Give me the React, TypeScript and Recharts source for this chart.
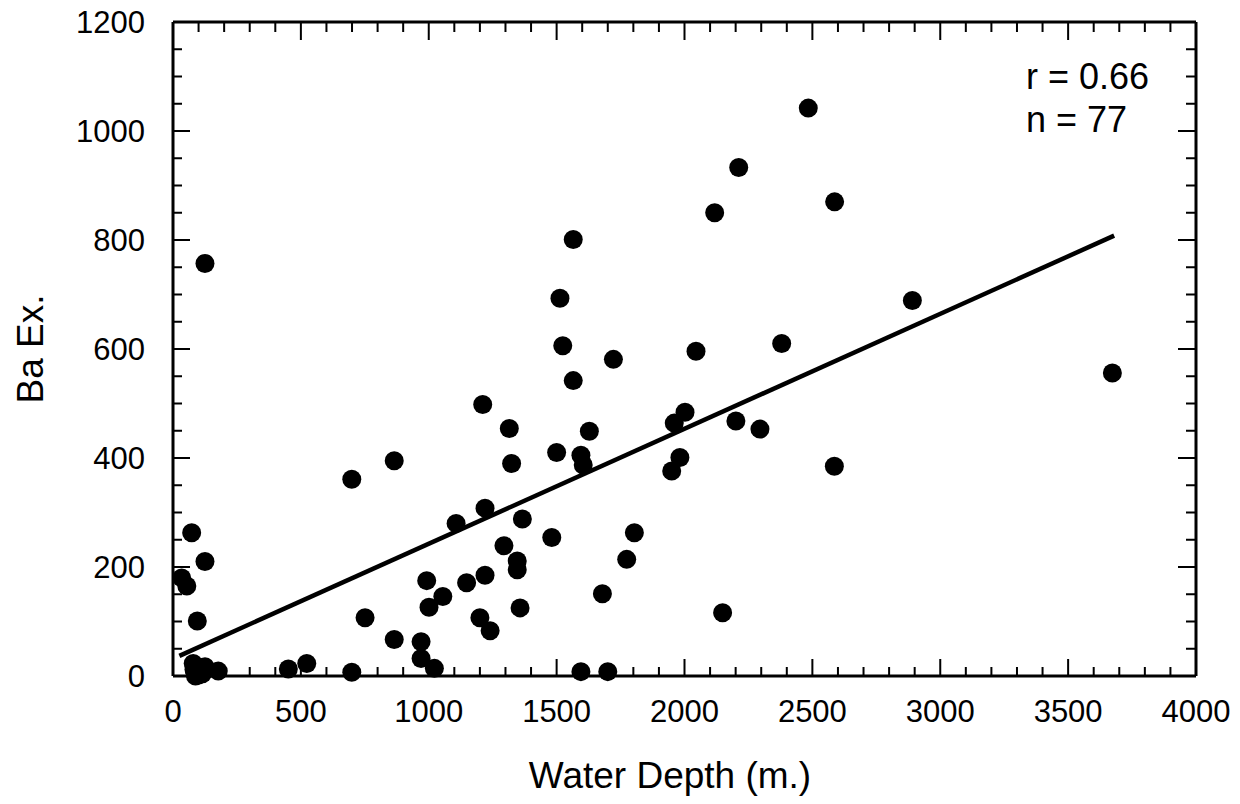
import { ScatterChart, Scatter, XAxis, YAxis, Label } from 'recharts';

const FONT = '"Liberation Sans", Arial, Helvetica, sans-serif';

// water depth (m) and excess Ba
const depthM = [
  34, 54, 73, 95, 125, 125, 79, 86, 125, 177,
  82, 88, 92, 100, 105, 115, 84, 110, 120,
  451, 523, 699, 699, 751, 865, 865, 970, 970, 1022,
  992, 1001, 1055, 1107, 1148, 1200, 1211, 1220, 1220, 1240,
  1294, 1315, 1324, 1346, 1346, 1357, 1366, 1481, 1500, 1513,
  1524, 1565, 1565, 1595, 1604, 1595, 1628, 1679, 1700, 1722,
  1774, 1804, 1950, 1960, 1982, 2002, 2045, 2118, 2149, 2201,
  2212, 2295, 2380, 2484, 2586, 2587, 2891, 3673,
];
const baEx = [
  180, 165, 263, 101, 210, 757, 23, 5, 17, 9,
  12, 0, 15, 2, 8, 4, 18, 14, 10,
  13, 23, 7, 361, 107, 67, 395, 63, 32, 14,
  175, 126, 146, 280, 171, 107, 498, 308, 185, 83,
  239, 454, 390, 211, 195, 125, 288, 254, 410, 693,
  606, 542, 801, 405, 387, 8, 449, 151, 8, 581,
  214, 263, 376, 464, 401, 484, 596, 850, 116, 468,
  933, 453, 610, 1042, 385, 870, 689, 556,
];

// regression line end points
const fitX = [25, 3680];
const fitY = [37, 808];

const xTicks = [
  0, 100, 200, 300, 400, 500, 600, 700, 800, 900,
  1000, 1100, 1200, 1300, 1400, 1500, 1600, 1700, 1800, 1900,
  2000, 2100, 2200, 2300, 2400, 2500, 2600, 2700, 2800, 2900,
  3000, 3100, 3200, 3300, 3400, 3500, 3600, 3700, 3800, 3900, 4000,
];
const yTicks = [
  0, 50, 100, 150, 200, 250, 300, 350, 400, 450, 500, 550, 600,
  650, 700, 750, 800, 850, 900, 950, 1000, 1050, 1100, 1150, 1200,
];

const points = depthM.map((x, i) => ({ x, y: baEx[i] }));
const fitLine = fitX.map((x, i) => ({ x, y: fitY[i] }));

const MAJOR = 17;
const MINOR = 9;

// inward tick marks drawn as filled rects
function BottomTick(props: any) {
  const { x, y, payload } = props;
  const major = payload.value % 500 === 0;
  const len = major ? MAJOR : MINOR;
  return (
    <g>
      <rect x={x - 1} y={y - len} width={2} height={len} fill="#000" />
      {major && (
        <text x={x} y={y + 46} textAnchor="middle" fontSize={31} fontFamily={FONT} fill="#000">
          {payload.value}
        </text>
      )}
    </g>
  );
}

function TopTick(props: any) {
  const { x, y, payload } = props;
  const len = payload.value % 500 === 0 ? MAJOR : MINOR;
  return <rect x={x - 1} y={y + 1} width={2} height={len} fill="#000" />;
}

function LeftTick(props: any) {
  const { x, y, payload } = props;
  const major = payload.value % 200 === 0;
  const len = major ? MAJOR : MINOR;
  return (
    <g>
      <rect x={x} y={y - 1} width={len} height={2} fill="#000" />
      {major && (
        <text x={x - 28} y={y + 11} textAnchor="end" fontSize={31} fontFamily={FONT} fill="#000">
          {payload.value}
        </text>
      )}
    </g>
  );
}

function RightTick(props: any) {
  const { x, y, payload } = props;
  const len = payload.value % 200 === 0 ? MAJOR : MINOR;
  return <rect x={x - len - 1} y={y - 1} width={len} height={2} fill="#000" />;
}

export default function App() {
  return (
    <div style={{ position: 'absolute', left: 0, top: 0, width: 1240, height: 804, background: '#fff' }}>
      <ScatterChart width={1240} height={804} margin={{ top: 21, right: 43, bottom: 0, left: 0 }}>
        <XAxis
          xAxisId="b"
          type="number"
          dataKey="x"
          domain={[0, 4000]}
          ticks={xTicks}
          interval={0}
          height={128}
          tickSize={0}
          tickMargin={0}
          tick={<BottomTick />}
          axisLine={{ stroke: '#000', strokeWidth: 3 }}
        >
          <Label
            content={(p: any) => (
              <text
                x={p.viewBox.x + 497}
                y={p.viewBox.y + 112}
                textAnchor="middle"
                fontSize={37}
                fontFamily={FONT}
                fill="#000"
              >
                Water Depth (m.)
              </text>
            )}
          />
        </XAxis>
        <XAxis
          xAxisId="t"
          orientation="top"
          type="number"
          dataKey="x"
          domain={[0, 4000]}
          ticks={xTicks}
          interval={0}
          height={1}
          tickSize={0}
          tickMargin={0}
          tick={<TopTick />}
          axisLine={{ stroke: '#000', strokeWidth: 3 }}
        />
        <YAxis
          yAxisId="l"
          type="number"
          dataKey="y"
          domain={[0, 1200]}
          ticks={yTicks}
          interval={0}
          width={173}
          tickSize={0}
          tickMargin={0}
          tick={<LeftTick />}
          axisLine={{ stroke: '#000', strokeWidth: 3 }}
        >
          <Label
            content={(p: any) => {
              const cx = p.viewBox.x + 30;
              const cy = p.viewBox.y + p.viewBox.height / 2;
              return (
                <text
                  x={cx}
                  y={cy}
                  transform={`rotate(-90 ${cx} ${cy})`}
                  textAnchor="middle"
                  dominantBaseline="central"
                  fontSize={37}
                  fontFamily={FONT}
                  fill="#000"
                >
                  Ba Ex.
                </text>
              );
            }}
          />
        </YAxis>
        <YAxis
          yAxisId="r"
          orientation="right"
          type="number"
          dataKey="y"
          domain={[0, 1200]}
          ticks={yTicks}
          interval={0}
          width={1}
          tickSize={0}
          tickMargin={0}
          tick={<RightTick />}
          axisLine={{ stroke: '#000', strokeWidth: 3 }}
        />
        <Scatter
          xAxisId="b"
          yAxisId="l"
          data={fitLine}
          line={{ stroke: '#000', strokeWidth: 4.5 }}
          lineType="joint"
          shape={() => <g />}
          isAnimationActive={false}
        />
        <Scatter
          xAxisId="b"
          yAxisId="l"
          data={points}
          fill="#000"
          shape={(p: any) => <circle cx={p.cx} cy={p.cy} r={9.5} fill="#000" />}
          isAnimationActive={false}
        />
        <Scatter xAxisId="t" yAxisId="r" data={points} shape={() => <g />} isAnimationActive={false} />
      </ScatterChart>
      <div
        style={{
          position: 'absolute',
          left: 1026,
          top: 55,
          fontFamily: FONT,
          fontSize: 36,
          lineHeight: '43px',
          color: '#000',
        }}
      >
        <div>r = 0.66</div>
        <div>n = 77</div>
      </div>
    </div>
  );
}
